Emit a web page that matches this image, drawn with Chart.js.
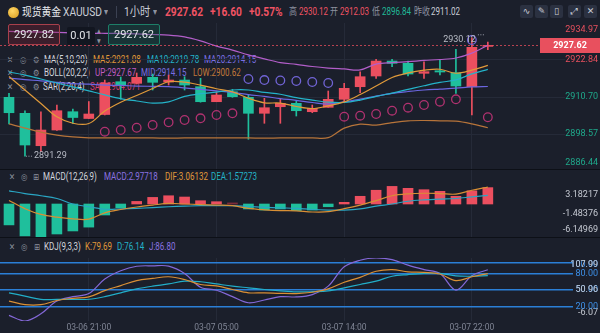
<!DOCTYPE html>
<html>
<head>
<meta charset="utf-8">
<title>现货黄金 XAUUSD 1小时</title>
<script src="https://cdn.jsdelivr.net/npm/chart.js@4.4.1/dist/chart.umd.min.js"></script>
<style>
  body { margin: 0; background: #1b1f2b; }
  #page { position: relative; width: 600px; height: 333px; overflow: hidden; background: #1b1f2b;
          font-family: Roboto, "Noto Sans CJK SC", sans-serif; color: #c9cdd6; }
  .t { position: absolute; white-space: nowrap; transform: scaleX(.8); transform-origin: 0 50%; line-height: 14px; }
  .hd { font-size: 12px; top: 5px; transform: scaleX(.85); }
  .sm { font-size: 10px; top: 5px; color: #8d92a0; }
  .lg { font-size: 10px; color: #d3d6dd; }
  .ic { font-family: "DejaVu Sans"; color: #8a8f9c; font-size: 9px; }
  .up { color: #ef5363; }
  .dn { color: #20b897; }
  canvas { position: absolute; left: 0; z-index: 1; }
  .sep { position: absolute; left: 0; width: 600px; height: 1px; background: #0d1017; z-index: 2; }
  .btn { position: absolute; top: 5px; width: 13px; height: 13px; background: #2b3141; border-radius: 2px;
         color: #c9cdd6; font: 9px "DejaVu Sans"; text-align: center; line-height: 13px; z-index: 2; }
  .box { position: absolute; z-index: 2; border-radius: 2px; font-size: 11px; color: #e4e6ea;
         text-align: center; box-sizing: border-box; }
  #coin { position: absolute; left: 8px; top: 7px; width: 11px; height: 11px; border-radius: 50%;
          background: radial-gradient(circle at 40% 35%, #ffd766, #d79a1c); z-index: 2; }
</style>
</head>
<body>
<div id="page">
  <!-- header -->
  <div id="coin"></div>
  <span class="t hd" style="left:22px;color:#e9ebef;font-size:11.5px">现货黄金</span>
  <span class="t hd" style="left:63px">XAUUSD</span>
  <span class="t sm" style="left:104px">▾</span>
  <div style="position:absolute;left:116px;top:6px;width:1px;height:12px;background:#3b4152"></div>
  <span class="t hd" style="left:124px">1小时</span>
  <span class="t sm" style="left:153px">▾</span>
  <span class="t hd up" style="left:165px;font-weight:bold">2927.62</span>
  <span class="t hd up" style="left:210px;font-weight:bold">+16.60</span>
  <span class="t hd up" style="left:249px;font-weight:bold">+0.57%</span>
  <span class="t sm" style="left:289px">高</span>
  <span class="t sm up" style="left:299px">2930.12</span>
  <span class="t sm" style="left:330px">开</span>
  <span class="t sm up" style="left:340px">2912.03</span>
  <span class="t sm" style="left:372px">低</span>
  <span class="t sm dn" style="left:382px">2896.84</span>
  <span class="t sm" style="left:414px">昨收</span>
  <span class="t sm" style="left:431px;color:#c9cdd6">2911.02</span>

  <div class="btn" style="left:520px">∿</div>
  <div class="btn" style="left:535px">✎</div>
  <div class="btn" style="left:550px">▯</div>
  <div class="btn" style="left:568px">⤢</div>
  <div class="btn" style="left:584px">✕</div>

  <!-- order boxes -->
  <div class="box" style="left:8px;top:24px;width:52px;height:21px;line-height:19px;border:1px solid #a8404c;background:rgba(120,30,45,.35)">2927.82</div>
  <div class="box" style="left:67px;top:27px;width:28px;height:18px;line-height:18px;background:#121620">0.01</div>
  <span class="t ic" style="left:97px;top:24px;font-size:6px">▲</span>
  <span class="t ic" style="left:97px;top:34px;font-size:6px">▼</span>
  <div class="box" style="left:108px;top:24px;width:52px;height:21px;line-height:19px;border:1px solid #1d7f68;background:rgba(20,90,75,.35)">2927.62</div>

  <!-- main legend (under the canvas, candles cover it) -->
  <span class="t ic" style="left:7px;top:53px">✕</span><span class="t ic" style="left:20px;top:53px">◎</span><span class="t ic" style="left:33px;top:53px">⚙</span>
  <span class="t lg" style="left:44px;top:53px">MA(5,10,20)</span>
  <span class="t lg" style="left:93px;top:53px;color:#e09a3a">MA5:2921.08</span>
  <span class="t lg" style="left:147px;top:53px;color:#24b3c9">MA10:2919.78</span>
  <span class="t lg" style="left:204px;top:53px;color:#7a6fe3">MA20:2914.15</span>

  <span class="t ic" style="left:7px;top:66px">✕</span><span class="t ic" style="left:20px;top:66px">◎</span><span class="t ic" style="left:33px;top:66px">⚙</span>
  <span class="t lg" style="left:44px;top:66px">BOLL(20,2,2)</span>
  <span class="t lg" style="left:95px;top:66px;color:#c25bc4">UP:2927.67</span>
  <span class="t lg" style="left:141px;top:66px;color:#7a6fe3">MID:2914.15</span>
  <span class="t lg" style="left:193px;top:66px;color:#c27a3a">LOW:2900.62</span>

  <span class="t ic" style="left:7px;top:80px">✕</span><span class="t ic" style="left:20px;top:80px">◎</span><span class="t ic" style="left:33px;top:80px">⚙</span>
  <span class="t lg" style="left:43px;top:80px">SAR(2,20,4)</span>
  <span class="t lg" style="left:90px;top:80px;color:#d23c72">SAR:2904.071</span>

  <!-- MACD legend -->
  <span class="t ic" style="left:9px;top:170px">✕</span><span class="t ic" style="left:21px;top:170px">◎</span><span class="t ic" style="left:33px;top:170px">⊞</span>
  <span class="t lg" style="left:43px;top:170px">MACD(12,26,9)</span>
  <span class="t lg" style="left:104px;top:170px;color:#8a72e0">MACD:2.97718</span>
  <span class="t lg" style="left:165px;top:170px;color:#e09a3a">DIF:3.06132</span>
  <span class="t lg" style="left:211px;top:170px;color:#24b3c9">DEA:1.57273</span>

  <!-- KDJ legend -->
  <span class="t ic" style="left:9px;top:240px">✕</span><span class="t ic" style="left:21px;top:240px">◎</span><span class="t ic" style="left:34px;top:240px">⊞</span>
  <span class="t lg" style="left:44px;top:240px">KDJ(9,3,3)</span>
  <span class="t lg" style="left:85px;top:240px;color:#e09a3a">K:79.69</span>
  <span class="t lg" style="left:117px;top:240px;color:#24b3c9">D:76.14</span>
  <span class="t lg" style="left:149px;top:240px;color:#8a72e0">J:86.80</span>

  <canvas id="main" width="600" height="148" style="top:23px"></canvas>
  <canvas id="macd" width="600" height="68" style="top:170px"></canvas>
  <canvas id="kdj" width="600" height="95" style="top:238px"></canvas>

  <div class="sep" style="top:169px"></div>
  <div class="sep" style="top:237px"></div>
</div>

<script>
// 1h candles, 03-06 16:00 .. 03-07 23:00
const opens = [2910.60, 2905.36, 2894.73, 2899.88, 2905.88, 2903.65, 2904.96, 2915.72, 2915.19, 2917.16, 2915.62, 2916.27, 2914.08, 2909.16, 2912.44, 2910.60, 2905.36, 2907.52, 2908.63, 2905.88, 2907.32, 2909.95, 2914.08, 2917.59, 2922.50, 2921.75, 2918.47, 2919.32, 2918.67, 2914.08, 2927.30];
const highs = [2911.91, 2906.21, 2905.88, 2908.08, 2906.77, 2909.22, 2916.27, 2917.26, 2918.57, 2918.24, 2917.91, 2917.36, 2916.83, 2912.44, 2913.22, 2911.36, 2910.27, 2909.95, 2909.39, 2908.08, 2912.67, 2915.19, 2918.99, 2923.06, 2923.06, 2922.50, 2922.27, 2923.06, 2926.34, 2930.12, 2928.70];
const lows = [2901.85, 2891.29, 2892.77, 2899.72, 2902.08, 2903.59, 2904.80, 2909.95, 2914.96, 2912.99, 2914.63, 2912.99, 2909.00, 2909.16, 2910.60, 2896.84, 2902.08, 2902.08, 2904.47, 2905.55, 2907.32, 2908.83, 2912.11, 2916.83, 2920.63, 2917.59, 2916.83, 2917.91, 2911.91, 2904.80, 2926.20];
const closes = [2905.55, 2894.96, 2899.88, 2906.21, 2903.98, 2905.13, 2915.29, 2914.40, 2917.16, 2915.52, 2916.27, 2914.63, 2909.16, 2911.36, 2910.80, 2905.36, 2907.19, 2908.63, 2906.21, 2906.99, 2909.95, 2913.55, 2917.36, 2922.50, 2921.75, 2918.24, 2919.00, 2918.90, 2914.31, 2927.00, 2927.62];

const ma5 = [2917.4, 2913.0, 2908.6, 2904.2, 2902.1, 2902.0, 2906.1, 2909.0, 2911.2, 2913.5, 2915.7, 2915.6, 2914.6, 2913.4, 2912.4, 2910.3, 2908.8, 2908.7, 2907.6, 2906.9, 2907.8, 2909.1, 2911.5, 2914.3, 2917.1, 2918.6, 2919.5, 2919.8, 2918.5, 2919.5, 2921.08];
const ma10 = [2918.9, 2917.9, 2916.6, 2915.3, 2914.0, 2912.7, 2911.4, 2910.2, 2909.4, 2908.7, 2909.1, 2910.9, 2911.8, 2912.3, 2913.0, 2913.0, 2912.2, 2911.6, 2910.5, 2909.7, 2909.0, 2908.9, 2909.7, 2910.9, 2912.0, 2913.2, 2914.4, 2915.5, 2916.3, 2918.3, 2919.78];
const ma20 = [2916.9, 2916.4, 2916.0, 2915.5, 2915.1, 2914.9, 2914.6, 2914.5, 2914.3, 2914.2, 2914.1, 2913.7, 2913.2, 2912.7, 2912.2, 2911.5, 2910.9, 2910.2, 2909.6, 2908.9, 2908.4, 2909.1, 2910.0, 2911.0, 2911.9, 2912.5, 2913.0, 2913.3, 2913.6, 2914.0, 2914.15];
const bollUp = [2932.2, 2932.1, 2932.0, 2931.9, 2931.7, 2931.6, 2931.6, 2931.5, 2931.4, 2931.2, 2931.0, 2930.4, 2929.1, 2927.4, 2926.1, 2924.5, 2923.2, 2922.0, 2921.4, 2920.7, 2920.2, 2919.9, 2919.6, 2921.5, 2922.0, 2922.3, 2922.7, 2923.0, 2923.5, 2925.1, 2927.67];
const bollLow = [2901.9, 2900.5, 2899.2, 2898.2, 2897.6, 2897.3, 2897.3, 2897.3, 2897.3, 2897.3, 2897.2, 2897.3, 2897.3, 2897.3, 2897.3, 2897.3, 2897.2, 2897.3, 2897.3, 2897.3, 2897.4, 2900.5, 2901.8, 2901.5, 2902.3, 2902.9, 2903.0, 2902.9, 2902.8, 2901.9, 2900.62];
const sar = [null, null, null, null, null, null, 2899.32, 2899.88, 2900.63, 2901.52, 2902.40, 2903.16, 2903.72, 2904.80, 2905.36, 2916.60, 2916.27, 2916.11, 2915.95, 2915.62, 2915.29, 2904.24, 2904.57, 2905.13, 2906.21, 2907.19, 2908.08, 2909.16, 2909.95, 2929.39, 2904.07];

const macdHist = [-3.8, -5.8, -6.1, -5.45, -4.9, -4.2, -2.0, -0.67, 0.47, 1.2, 1.5, 1.27, 0.6, 0.42, 0.2, -0.9, -1.1, -0.9, -1.2, -1.1, -0.5, 0.3, 1.4, 2.5, 3.2, 2.85, 2.6, 2.3, 1.4, 2.4, 2.97718];
const dif = [0.65, -0.85, -1.9, -2.4, -2.7, -2.75, -1.6, -1.0, -0.55, -0.2, 0.1, 0.0, -0.1, -0.2, -0.3, -0.8, -1.05, -1.2, -1.25, -1.45, -1.4, -0.85, -0.2, 0.6, 1.5, 1.85, 1.95, 1.9, 1.8, 2.5, 3.06132];
const dea = [2.4, 1.9, 1.5, 1.0, 0.0, -0.5, -0.95, -0.9, -0.8, -0.65, -0.5, -0.4, -0.3, -0.3, -0.3, -0.45, -0.6, -0.7, -0.8, -1.0, -1.1, -1.1, -0.9, -0.4, 0.0, 0.5, 0.75, 0.9, 1.0, 1.3, 1.57273];

const kVals = [30, 23.5, 23.5, 31, 35, 37.5, 49, 58, 67, 71, 74, 69, 60, 57.5, 51, 45, 45, 44, 43.6, 46, 52, 64, 73, 84, 87, 83, 82, 79, 67, 74, 79.69];
const dVals = [45, 39, 33, 33, 33, 33.3, 38, 45, 52, 57, 61, 66, 65, 61, 57, 54, 51, 48.5, 46.6, 47, 48.4, 54, 60, 66, 75, 78, 80, 80, 75.6, 75, 76.14];
const jVals = [4, -6.07, 7, 30, 38, 43.6, 70, 85, 93, 93.8, 93.3, 80, 55, 49.6, 38, 27, 32, 38, 37.5, 41.8, 57, 92, 104, 107.99, 105, 95, 87, 80, 50, 76, 86.80];

const priceTicks = [2886.44, 2898.57, 2910.70, 2922.84, 2934.97];
const macdTicks = [-6.14969, -1.48376, 3.18217];
const kdjTicks = [-6.07, 20, 50, 50.96, 80, 100, 107.99];
const kdjLevels = [20, 50, 80, 100];
const timeIdx = [5, 13, 21, 29];
const timeLabels = ['03-06 21:00', '03-07 05:00', '03-07 14:00', '03-07 22:00'];
const prevClose = 2911.02;

const UP = '#ec4f5f', DOWN = '#1fbf9c', GRID = '#252a38';
const xMin = -0.564, xMax = 33.08;

const pts = arr => arr.map((v, i) => ({x: i, y: v})).filter(p => p.y !== null);
const line = (arr, color, extra) => Object.assign({
  type: 'line', data: pts(arr), borderColor: color, borderWidth: 1.2,
  pointRadius: 0, tension: 0.35, order: 0
}, extra || {});

function xAxis(showLabels) {
  return {
    type: 'linear', min: xMin, max: xMax, offset: false,
    afterBuildTicks: s => { s.ticks = timeIdx.map(v => ({value: v})); },
    afterFit: s => { s.height = showLabels ? 12 : 0; },
    grid: { color: GRID, drawTicks: false, offset: false },
    border: { display: false },
    ticks: {
      display: showLabels, autoSkip: false, maxRotation: 0, padding: 2,
      color: '#7f8494', font: { size: 8.5, family: 'Roboto' },
      callback: v => timeLabels[timeIdx.indexOf(v)]
    }
  };
}

function yAxis(min, max, ticks, gridColor, tickLen, width) {
  return {
    axis: 'y', position: 'right', min: min, max: max,
    afterBuildTicks: s => { s.ticks = ticks.map(v => ({value: v})); },
    afterFit: s => { s.width = 63; },
    ticks: { display: false },
    grid: { color: gridColor, tickColor: gridColor, drawTicks: tickLen > 0, tickLength: tickLen, lineWidth: width || 1 },
    border: { display: false }
  };
}

// right hand labels, first/last kept inside the panel
const rightLabels = {
  id: 'rlab',
  afterDraw(chart, args, o) {
    const sc = chart.scales[o.axis], a = chart.chartArea, ctx = chart.ctx;
    ctx.save();
    ctx.font = '9px Roboto';
    ctx.textAlign = 'right';
    ctx.textBaseline = 'middle';
    sc.ticks.forEach(t => {
      const y = Math.min(Math.max(sc.getPixelForValue(t.value), a.top + 7), a.bottom - 8);
      ctx.fillStyle = o.color(t.value);
      ctx.fillText(t.value.toFixed(o.digits), 598, y);
    });
    ctx.restore();
  }
};

// last price line + tag, highest / lowest markers
const priceMarks = {
  id: 'priceMarks',
  afterDatasetsDraw(chart) {
    const {ctx, chartArea: a, scales: {x, y}} = chart;
    const last = closes[closes.length - 1];
    const py = Math.round(y.getPixelForValue(last)) + 0.5;
    ctx.save();
    ctx.strokeStyle = 'rgba(236,79,95,0.75)';
    ctx.lineWidth = 1;
    ctx.setLineDash([2, 2]);
    ctx.beginPath(); ctx.moveTo(a.left, py); ctx.lineTo(a.right + 3, py); ctx.stroke();
    ctx.fillStyle = '#e8505e';
    ctx.fillRect(a.right + 3, py - 7.5, 60, 15);
    ctx.fillStyle = '#fff';
    ctx.font = 'bold 9px Roboto';
    ctx.textAlign = 'center';
    ctx.textBaseline = 'middle';
    ctx.fillText(last.toFixed(2), a.right + 33, py);

    ctx.font = '9px Roboto';
    ctx.fillStyle = '#b7bbc5';
    ctx.strokeStyle = '#9a9fab';
    ctx.setLineDash([1, 1.5]);
    const hi = Math.max(...highs), lo = Math.min(...lows);
    const hx = x.getPixelForValue(highs.indexOf(hi)), hy = y.getPixelForValue(hi);
    ctx.textAlign = 'right';
    ctx.fillText(hi.toFixed(2), hx + 4, hy + 2);
    ctx.beginPath(); ctx.moveTo(hx + 6, hy - 3); ctx.lineTo(hx + 13, hy - 3); ctx.stroke();
    const lx = x.getPixelForValue(lows.indexOf(lo)), ly = y.getPixelForValue(lo);
    ctx.textAlign = 'left';
    ctx.beginPath(); ctx.moveTo(lx + 1, ly); ctx.lineTo(lx + 8, ly); ctx.stroke();
    ctx.fillText(lo.toFixed(2), lx + 9, ly);
    ctx.restore();
  }
};

const base = {
  responsive: false, animation: false, devicePixelRatio: 1,
  layout: { padding: 0, autoPadding: false },
  events: []
};

// main panel: candles + MA + BOLL + SAR
const candleColors = opens.map((o, i) => closes[i] >= o ? UP : DOWN);
new Chart(document.getElementById('main'), {
  type: 'bar',
  data: {
    datasets: [
      line(ma5, '#e09a3a'),
      line(ma10, '#24b3c9'),
      line(ma20, '#6b66e0'),
      line(bollUp, '#b25ec9'),
      line(bollLow, '#b7743a'),
      {
        type: 'line', data: pts(sar), showLine: false, order: 0,
        pointRadius: 4.3, pointBorderWidth: 1.3, pointBackgroundColor: 'transparent',
        pointBorderColor: pts(sar).map(p => p.y > closes[p.x] ? '#7164d6' : '#b13270')
      },
      {
        data: opens.map((o, i) => ({x: i, y: [o, closes[i]]})),
        backgroundColor: candleColors, barThickness: 10, grouped: false, minBarLength: 1, order: 1
      },
      {
        data: lows.map((l, i) => ({x: i, y: [l, highs[i]]})),
        backgroundColor: candleColors, barThickness: 1, grouped: false, order: 2
      }
    ]
  },
  options: Object.assign({}, base, {
    plugins: {
      legend: { display: false }, tooltip: { enabled: false },
      rlab: { axis: 'y', digits: 2, color: v => v > prevClose ? '#e8505e' : '#1fa98b' }
    },
    scales: {
      x: xAxis(false),
      y: yAxis(2886.44, 2934.97, priceTicks,
        c => (c.tick.value === 2886.44 || c.tick.value === 2934.97) ? 'transparent' : GRID, 28)
    }
  }),
  plugins: [rightLabels, priceMarks]
});

// MACD panel
new Chart(document.getElementById('macd'), {
  type: 'bar',
  data: {
    datasets: [
      line(dif, '#d98f35'),
      line(dea, '#2aa6c4'),
      {
        data: pts(macdHist), barThickness: 10, grouped: false, order: 1,
        backgroundColor: macdHist.map(v => v >= 0 ? (v < 0.25 ? '#7d2b3a' : UP) : DOWN)
      }
    ]
  },
  options: Object.assign({}, base, {
    plugins: {
      legend: { display: false }, tooltip: { enabled: false },
      rlab: { axis: 'yl', digits: 5, color: () => '#c5c9d2' }
    },
    scales: {
      x: xAxis(false),
      y: { display: false, min: -6.18, max: 6.18 },
      yl: yAxis(-7.78, 9.557, macdTicks, 'transparent', 0)
    }
  }),
  plugins: [rightLabels]
});

// KDJ panel
new Chart(document.getElementById('kdj'), {
  type: 'line',
  data: {
    datasets: [
      line(kVals, '#d98f35'),
      line(dVals, '#22aec8'),
      line(jVals, '#8468d8')
    ]
  },
  options: Object.assign({}, base, {
    layout: { padding: { top: 20 }, autoPadding: false },
    plugins: {
      legend: { display: false }, tooltip: { enabled: false },
      rlab: { axis: 'y', digits: 2, color: v => kdjLevels.includes(v) ? '#3d8fe6' : '#c5c9d2' }
    },
    scales: {
      x: xAxis(true),
      y: yAxis(-6.07, 107.99, kdjTicks,
        c => kdjLevels.includes(c.tick.value) ? '#2b7fd6' : 'transparent', 36, 1.5)
    }
  }),
  plugins: [rightLabels]
});
</script>
</body>
</html>
